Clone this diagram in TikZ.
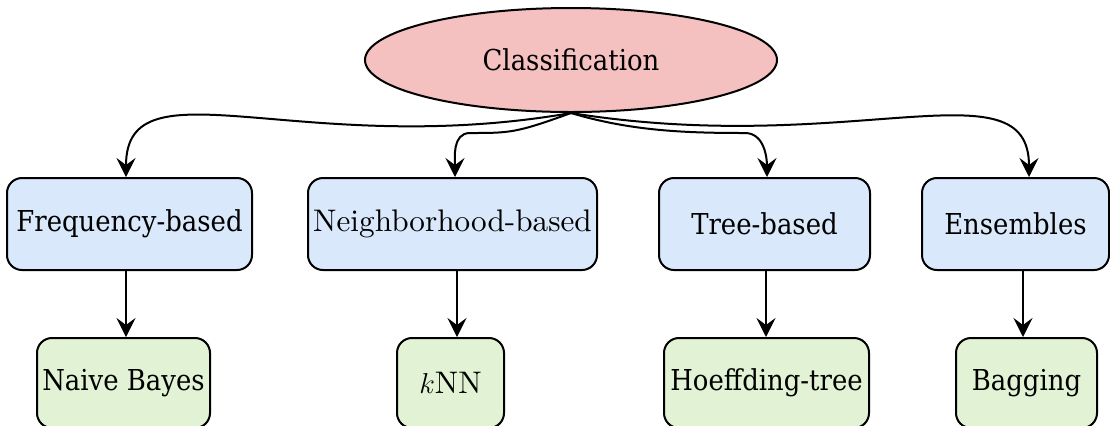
\documentclass[tikz,border=0pt]{standalone}
\usepackage{fontspec}
\setmainfont{DejaVu Serif}[FakeStretch=0.9]
\newfontfamily\lmfont{lmroman10-regular}[Extension=.otf]
\usetikzlibrary{shapes.geometric,arrows.meta}
\definecolor{pinkfill}{HTML}{F5C0C0}
\definecolor{bluefill}{HTML}{DAE8FC}
\definecolor{greenfill}{HTML}{E2F3D5}
\begin{document}
\begin{tikzpicture}[x=0.5pt,y=-0.5pt,
  every node/.style={font=\fontsize{14.4}{17}\selectfont},
  lmtext/.style={font=\lmfont\fontsize{15.6}{18}\selectfont},
  bluebox/.style={draw, line width=1pt, rounded corners=7.5pt, fill=bluefill, minimum height=46pt, inner sep=0pt},
  greenbox/.style={draw, line width=1pt, rounded corners=7.5pt, fill=greenfill, minimum height=45pt, inner sep=0pt},
  arr/.style={-{Stealth[length=9.5pt,width=9.5pt,inset=3.5pt]}, line width=1pt}]
\clip (0,0) rectangle (1110,425);
\node[ellipse, draw, fill=pinkfill, line width=1pt, minimum width=206pt, minimum height=52pt, inner sep=0pt] (root) at (571,60) {Classification};
\node[bluebox, minimum width=122.5pt] (freq) at (129.5,224) {Frequency-based};
\node[bluebox, minimum width=144.5pt, lmtext] (nbh) at (452.5,224) {Neighborhood-based};
\node[bluebox, minimum width=105.5pt] (tree) at (764.5,224) {Tree-based};
\node[bluebox, minimum width=93.5pt] (ens) at (1015.5,224) {Ensembles};
\node[greenbox, minimum width=86.5pt] (nb) at (123.5,383) {Naive Bayes};
\node[greenbox, minimum width=53.5pt, lmtext] (knn) at (450.5,383) {$k$NN};
\node[greenbox, minimum width=102.5pt] (hoef) at (766.5,383) {Hoeffding-tree};
\node[greenbox, minimum width=70.5pt] (bag) at (1026.5,383) {Bagging};
\coordinate (k1) at (470,133);
\coordinate (t1) at (745,133);
\draw[arr] (root.south) .. controls +(-271,47) and +(0,-118) .. ([xshift=-1.75pt]freq.north);
\draw[arr] (root.south) .. controls +(-55,20) and +(40,0) .. (k1) to[out=180,in=90] ([xshift=1.25pt]nbh.north);
\draw[arr] (root.south) .. controls +(60,18) and +(-60,0) .. (t1) to[out=0,in=90] ([xshift=1.25pt]tree.north);
\draw[arr] (root.south) .. controls +(280,45) and +(0,-115) .. ([xshift=6.75pt]ens.north);
\draw[arr] ([xshift=-1.75pt]freq.south) -- ([xshift=1.25pt]nb.north);
\draw[arr] ([xshift=2.25pt]nbh.south) -- ([xshift=3.25pt]knn.north);
\draw[arr] ([xshift=0.75pt]tree.south) -- ([xshift=-0.25pt]hoef.north);
\draw[arr] ([xshift=3.75pt]ens.south) -- ([xshift=-1.75pt]bag.north);
\end{tikzpicture}
\end{document}
